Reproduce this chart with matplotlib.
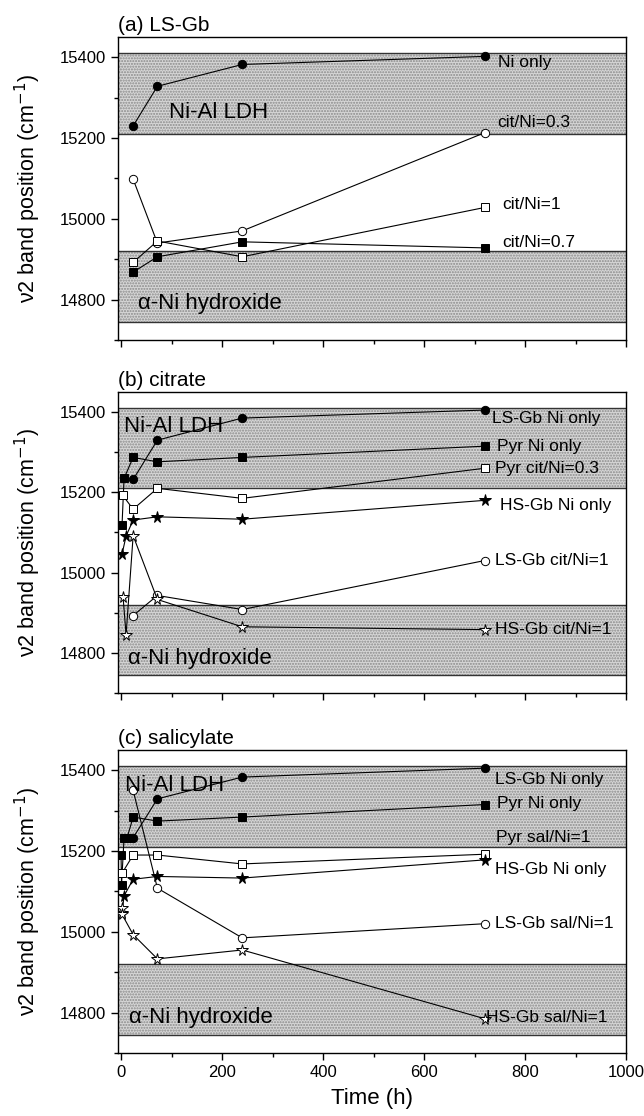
import numpy as np
import matplotlib.pyplot as plt
from matplotlib.ticker import MultipleLocator

plt.rcParams['font.family'] = ['Liberation Sans', 'DejaVu Sans']
plt.rcParams['hatch.linewidth'] = 1.0

# ---- data (time in h, v2 band position in cm-1) ----
t_4 = [24, 72, 240, 720]

# (a) LS-Gb
a_ni_only = [15230, 15328, 15382, 15402]
a_cit03 = [15098, 14940, 14970, 15213]
a_cit1 = [14892, 14945, 14906, 15028]
a_cit07 = [14868, 14906, 14943, 14928]

# (b) citrate
b_ls_ni = [15232, 15330, 15385, 15405]
b_pyr_ni_t = [2, 6, 24, 72, 240, 720]
b_pyr_ni = [15119, 15235, 15287, 15276, 15287, 15315]
b_pyr_cit03_t = [3, 24, 72, 240, 720]
b_pyr_cit03 = [15193, 15158, 15210, 15185, 15260]
b_hs_ni_t = [2, 10, 24, 72, 240, 720]
b_hs_ni = [15046, 15091, 15131, 15139, 15133, 15180]
b_ls_cit1 = [14893, 14943, 14908, 15030]
b_hs_cit1_t = [4, 10, 24, 72, 240, 720]
b_hs_cit1 = [14940, 14845, 15092, 14933, 14865, 14858]

# (c) salicylate
c_ls_ni = [15233, 15329, 15383, 15405]
c_pyr_ni_t = [0, 1, 6, 12, 24, 72, 240, 720]
c_pyr_ni = [15190, 15117, 15233, 15233, 15284, 15274, 15284, 15315]
c_pyr_sal1_t = [2, 24, 72, 240, 720]
c_pyr_sal1 = [15145, 15190, 15190, 15168, 15192]
c_hs_ni_t = [2, 6, 24, 72, 240, 720]
c_hs_ni = [15046, 15089, 15130, 15137, 15133, 15178]
c_ls_sal1 = [15350, 15108, 14985, 15020]
c_hs_sal1_t = [1, 2, 24, 72, 240, 720]
c_hs_sal1 = [15058, 15043, 14993, 14933, 14955, 14785]

ldh_band = (15210, 15410)
alpha_band = (14745, 14920)

titles = ['(a) LS-Gb', '(b) citrate', '(c) salicylate']

# series: (t, v, marker, filled, label)
panels = [
    [(t_4, a_ni_only, 'o', True, 'Ni only'),
     (t_4, a_cit03, 'o', False, 'cit/Ni=0.3'),
     (t_4, a_cit1, 's', False, 'cit/Ni=1'),
     (t_4, a_cit07, 's', True, 'cit/Ni=0.7')],
    [(t_4, b_ls_ni, 'o', True, 'LS-Gb Ni only'),
     (b_pyr_ni_t, b_pyr_ni, 's', True, 'Pyr Ni only'),
     (b_pyr_cit03_t, b_pyr_cit03, 's', False, 'Pyr cit/Ni=0.3'),
     (b_hs_ni_t, b_hs_ni, '*', True, 'HS-Gb Ni only'),
     (t_4, b_ls_cit1, 'o', False, 'LS-Gb cit/Ni=1'),
     (b_hs_cit1_t, b_hs_cit1, '*', False, 'HS-Gb cit/Ni=1')],
    [(t_4, c_ls_ni, 'o', True, 'LS-Gb Ni only'),
     (c_pyr_ni_t, c_pyr_ni, 's', True, 'Pyr Ni only'),
     (c_pyr_sal1_t, c_pyr_sal1, 's', False, 'Pyr sal/Ni=1'),
     (c_hs_ni_t, c_hs_ni, '*', True, 'HS-Gb Ni only'),
     (t_4, c_ls_sal1, 'o', False, 'LS-Gb sal/Ni=1'),
     (c_hs_sal1_t, c_hs_sal1, '*', False, 'HS-Gb sal/Ni=1')],
]

# label positions (x in h, y in cm-1)
label_pos = [
    [(746, 15386), (746, 15238), (754, 15036), (754, 14942)],
    [(734, 15383), (744, 15313), (741, 15260), (750, 15168), (740, 15031), (741, 14859)],
    [(741, 15378), (744, 15317), (742, 15233), (741, 15155), (741, 15020), (723, 14788)],
]
ldh_text_pos = [(95, 15262), (5, 15363), (8, 15361)]
alpha_text_pos = [(33, 14790), (14, 14785), (16, 14789)]

fig = plt.figure(figsize=(6.44, 11.16), dpi=100)
W, H = 644, 1116
boxes = [(37, 340), (392, 693), (750, 1053)]
left, right = 118, 626

for i, (top, bot) in enumerate(boxes):
    ax = fig.add_axes([left / W, 1 - bot / H, (right - left) / W, (bot - top) / H])
    for band in (ldh_band, alpha_band):
        ax.axhspan(band[0], band[1], facecolor='#d6d6d6', edgecolor='#8a8a8a',
                   hatch='......', linewidth=0, zorder=0)
        for yb in band:
            ax.axhline(yb, color='#333333', lw=1.0, zorder=1)

    for (t, v, m, filled, lab), (lx, ly) in zip(panels[i], label_pos[i]):
        ms = 8.5 if m == '*' else 6
        ax.plot(t, v, color='black', lw=0.8, marker=m, ms=ms,
                mfc='black' if filled else 'white', mec='black', mew=0.7, zorder=3)
        ax.text(lx, ly, lab, fontsize=12.5, ha='left', va='center', zorder=4)

    ax.text(*ldh_text_pos[i], 'Ni-Al LDH', fontsize=16, ha='left', va='center', zorder=4)
    ax.text(*alpha_text_pos[i], '\u03b1-Ni hydroxide', fontsize=16, ha='left',
            va='center', zorder=4)

    ax.set_xlim(-6, 1000)
    ax.set_ylim(14700, 15450)
    ax.xaxis.set_major_locator(MultipleLocator(200))
    ax.xaxis.set_minor_locator(MultipleLocator(100))
    ax.yaxis.set_major_locator(MultipleLocator(200))
    ax.yaxis.set_minor_locator(MultipleLocator(100))
    ax.tick_params(which='major', direction='out', length=5, width=1, labelsize=12)
    ax.tick_params(which='minor', direction='out', length=3, width=1)
    for sp in ax.spines.values():
        sp.set_linewidth(1.0)
    if i < 2:
        ax.tick_params(axis='x', labelbottom=False)
    else:
        ax.set_xlabel('Time (h)', fontsize=16, labelpad=6)
    ax.set_ylabel('\u03bd2 band position (cm$^{-1}$)', fontsize=15.5)
    ax.yaxis.set_label_coords(-0.148, 0.5)
    ax.set_title(titles[i], loc='left', fontsize=15, pad=4)

fig.savefig('out.png', dpi=100)
